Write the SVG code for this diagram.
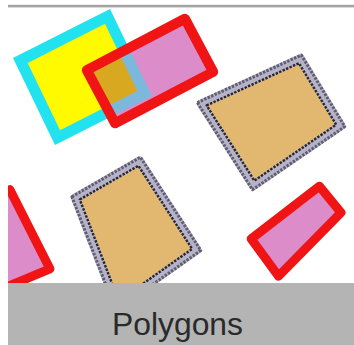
<svg xmlns="http://www.w3.org/2000/svg" width="354" height="345" viewBox="0 0 354 345">
  <style>
    .red { fill: none; stroke: #f01414; stroke-linejoin: round; }
    .pink { fill: #dc8cc8; stroke: none; }
    .tanfill { fill: #e2b870; stroke: #b6b2c8; stroke-width: 9; stroke-linejoin: round; }
    .outerdot { fill: none; stroke: #5e5c70; stroke-width: 3; stroke-dasharray: 2.4 1.4; stroke-linejoin: round; }
    .innerdot { fill: none; stroke: #26262c; stroke-width: 2.4; stroke-dasharray: 2.4 1.4; stroke-linejoin: round; }
    .label { font-family: "Liberation Sans", Arial, sans-serif; font-size: 32px; fill: #2a2a2a; }
  </style>
  <defs>
    <clipPath id="redInner">
      <polygon points="86.8,70.1 184.9,18.7 213.2,71.9 115.1,123.3"/>
    </clipPath>
    <clipPath id="panel">
      <rect x="8" y="0" width="346" height="283"/>
    </clipPath>
  </defs>
  <rect x="0" y="0" width="354" height="345" fill="#ffffff"/>
  <rect x="8" y="4.8" width="346" height="2.6" fill="#a4a4a4"/>

  <g id="cyan-yellow">
    <polygon points="20.3,60.5 107.5,16.4 144.7,93.5 57.5,137.6" fill="#fffa00" stroke="#22e2f0" stroke-width="11" stroke-linejoin="miter"/>
  </g>

  <g id="red-pink-top">
    <polygon class="pink" points="86.8,70.1 184.9,18.7 213.2,71.9 115.1,123.3"/>
    <g clip-path="url(#redInner)">
      <polygon points="20.3,60.5 107.5,16.4 144.7,93.5 57.5,137.6" fill="#d8a820" stroke="#7cb8dc" stroke-width="11"/>
    </g>
    <polygon class="red" stroke-width="10" points="86.8,70.1 184.9,18.7 213.2,71.9 115.1,123.3"/>
  </g>

  <g id="tan-right">
    <polygon class="tanfill" points="201.5,103.9 300.3,58.7 340.9,125.7 253.3,185.7"/>
    <polygon class="outerdot" points="197.3,102.6 301.3,55.1 344.8,126.6 252.5,189.7"/>
    <polygon class="innerdot" points="206.6,105.4 298.9,63.2 336.2,124.7 254.3,180.7"/>
  </g>

  <g id="tan-left" clip-path="url(#panel)">
    <polygon class="tanfill" points="75.5,198 139.5,161 196.9,249.8 117.1,306.2"/>
    <polygon class="outerdot" points="71.9,196.7 140.4,157.2 200.8,250.5 115.8,310.5"/>
    <polygon class="innerdot" points="79.8,199.5 138.4,165.7 192.1,248.9 118.7,300.9"/>
  </g>

  <g id="red-pink-left" clip-path="url(#panel)">
    <polygon class="pink" points="-30,205 9.8,189.6 49.9,268.8 -10,294"/>
    <polygon class="red" stroke-width="9" points="-30,205 9.8,189.6 49.9,268.8 -10,294"/>
  </g>

  <g id="red-pink-right">
    <polygon class="pink" points="251.2,238.9 319.3,186.2 341,212.7 278.5,276.2"/>
    <polygon class="red" stroke-width="9" points="251.2,238.9 319.3,186.2 341,212.7 278.5,276.2"/>
  </g>

  <g id="caption">
    <rect x="8" y="283" width="346" height="62" fill="#b4b4b4"/>
    <text class="label" x="177.5" y="335" text-anchor="middle" textLength="131" lengthAdjust="spacingAndGlyphs">Polygons</text>
  </g>
</svg>
